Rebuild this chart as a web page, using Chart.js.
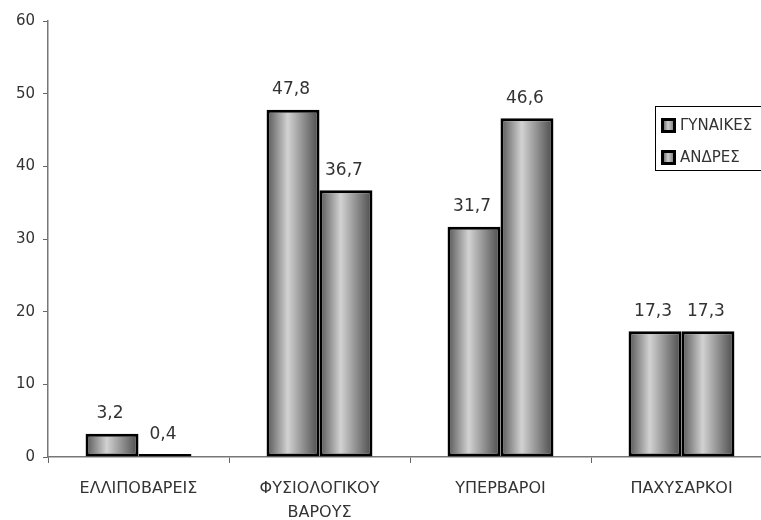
<!DOCTYPE html>
<html><head><meta charset="utf-8">
<script src="https://cdn.jsdelivr.net/npm/chart.js@4.4.1/dist/chart.umd.min.js"></script>
<style>
html,body{margin:0;padding:0;background:#fff;overflow:hidden;width:761px;height:520px}
#wrap{width:780px;height:520px;position:relative}
</style></head><body><div id="wrap"><canvas id="c" width="780" height="520"></canvas></div>
<script>
const categories = [["ΕΛΛΙΠΟΒΑΡΕΙΣ"], ["ΦΥΣΙΟΛΟΓΙΚΟΥ", "ΒΑΡΟΥΣ"], ["ΥΠΕΡΒΑΡΟΙ"], ["ΠΑΧΥΣΑΡΚΟΙ"]];
const seriesNames = ["ΓΥΝΑΙΚΕΣ", "ΑΝΔΡΕΣ"];
const womenValues = [3.2, 47.8, 31.7, 17.3];
const menValues = [0.4, 36.7, 46.6, 17.3];
const yTickValues = [0, 10, 20, 30, 40, 50, 60];

const FONT = "'DejaVu Sans', sans-serif";
const TEXT = '#333';

function barGradient(ctx, x0, x1) {
  const g = ctx.createLinearGradient(x0, 0, x1, 0);
  g.addColorStop(0, '#555');
  g.addColorStop(0.4, '#d2d2d2');
  g.addColorStop(1, '#4a4a4a');
  return g;
}

const gradientPlugin = {
  id: 'gradientBars',
  beforeDatasetsDraw(chart) {
    const ctx = chart.ctx;
    chart.data.datasets.forEach((ds, i) => {
      chart.getDatasetMeta(i).data.forEach(el => {
        const x0 = el.x - el.width / 2, x1 = el.x + el.width / 2;
        el.options = Object.assign({}, el.options, { backgroundColor: barGradient(ctx, x0, x1) });
      });
    });
  }
};

const labelPlugin = {
  id: 'valueLabels',
  afterDatasetsDraw(chart) {
    const ctx = chart.ctx;
    ctx.save();
    ctx.font = '17px ' + FONT;
    ctx.fillStyle = TEXT;
    ctx.textAlign = 'center';
    ctx.textBaseline = 'middle';
    chart.data.datasets.forEach((ds, i) => {
      chart.getDatasetMeta(i).data.forEach((el, j) => {
        const v = ds.data[j];
        ctx.fillText(String(v).replace('.', ','), el.x - 2, el.y - 20);
      });
    });
    ctx.restore();
  }
};

const legendPlugin = {
  id: 'boxLegend',
  afterDraw(chart) {
    const ctx = chart.ctx;
    ctx.save();
    ctx.strokeStyle = '#000';
    ctx.lineWidth = 1;
    ctx.strokeRect(655.5, 106.5, 140, 64);
    ctx.font = '15px ' + FONT;
    ctx.textBaseline = 'middle';
    ctx.textAlign = 'left';
    const rows = [125.5, 157.5];
    seriesNames.forEach((name, i) => {
      const y = rows[i];
      ctx.fillStyle = '#000';
      ctx.fillRect(661, y - 7.5, 15, 15);
      const g = ctx.createLinearGradient(664, 0, 673, 0);
      g.addColorStop(0, '#777');
      g.addColorStop(0.45, '#ccc');
      g.addColorStop(1, '#888');
      ctx.fillStyle = g;
      ctx.fillRect(664, y - 4.5, 9, 9);
      ctx.fillStyle = TEXT;
      ctx.fillText(name, 680, y + 1);
    });
    ctx.restore();
  }
};

new Chart(document.getElementById('c'), {
  type: 'bar',
  data: {
    labels: categories,
    datasets: [
      { label: seriesNames[0], data: womenValues, borderColor: '#000', borderWidth: 3, borderSkipped: false,
        categoryPercentage: 0.585, barPercentage: 1 },
      { label: seriesNames[1], data: menValues, borderColor: '#000', borderWidth: 3, borderSkipped: false,
        categoryPercentage: 0.585, barPercentage: 1 }
    ]
  },
  options: {
    responsive: false,
    animation: false,
    events: [],
    layout: { padding: { top: 21, right: 8, left: 0, bottom: 0 } },
    plugins: { legend: { display: false }, tooltip: { enabled: false } },
    scales: {
      x: {
        grid: { display: true, drawOnChartArea: false, drawTicks: true, tickLength: 6, color: '#666', offset: true },
        border: { display: true, color: '#777', width: 1.5 },
        ticks: { color: TEXT, font: { family: FONT, size: 16, lineHeight: 1.5 }, padding: 14, maxRotation: 0, autoSkip: false },
        afterFit(s) { s.height = 63; }
      },
      y: {
        min: 0, max: 60,
        afterBuildTicks(s) { s.ticks = yTickValues.map(v => ({ value: v })); },
        grid: { display: true, drawOnChartArea: false, drawTicks: true, tickLength: 5, color: '#666' },
        border: { display: true, color: '#777', width: 1.5 },
        ticks: { color: TEXT, font: { family: FONT, size: 15 }, padding: 8 },
        afterFit(s) { s.width = 48; }
      }
    }
  },
  plugins: [gradientPlugin, labelPlugin, legendPlugin]
});
</script>
</body></html>
